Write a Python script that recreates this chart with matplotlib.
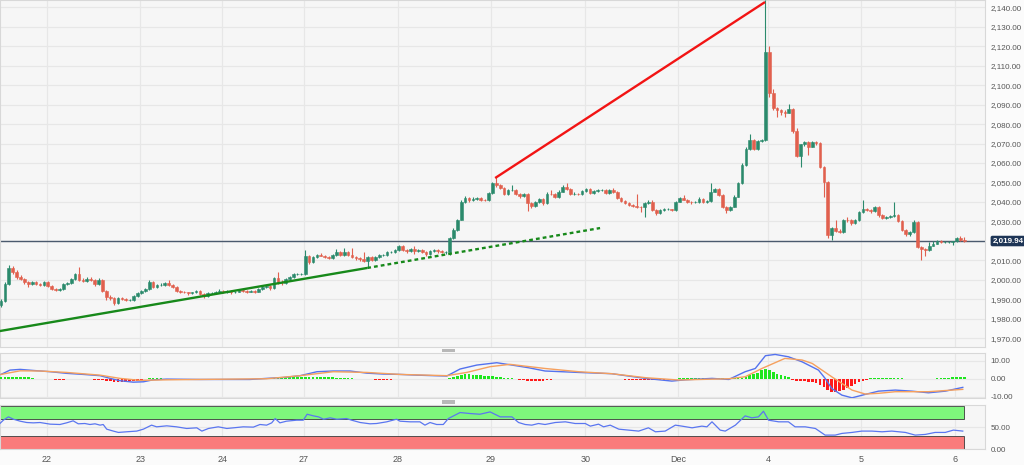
import numpy as np
import matplotlib.pyplot as plt
import matplotlib.patches as mpatches
from matplotlib.ticker import FuncFormatter

# hourly candles, x = candle index
first_open = 1987.0
closes = [
    1989.0, 1998.0, 2006.0, 2004.0, 2001.5, 2000.5, 1999.0, 1998.0, 1999.0, 1998.0,
    1997.5, 1999.0, 1997.0, 1995.5, 1995.0, 1995.5, 1998.0, 1998.5, 2000.5, 2003.0,
    2000.0, 1999.5, 2000.5, 2000.0, 1998.0, 2000.0, 1994.5, 1991.0, 1990.5, 1988.0,
    1990.5, 1990.0, 1989.5, 1989.5, 1991.5, 1993.0, 1994.5, 1995.5, 1999.0, 1996.5,
    1997.5, 1997.5, 1998.5, 1997.5, 1996.5, 1994.5, 1994.0, 1993.5, 1993.0, 1993.5,
    1994.5, 1992.8, 1991.5, 1993.0, 1993.3, 1994.0, 1994.5, 1993.8, 1994.2, 1993.8,
    1994.0, 1995.0, 1994.5, 1994.0, 1994.5, 1993.8, 1995.5, 1996.5, 1996.8, 1996.0,
    2001.0, 1998.5, 1998.2, 2000.5, 2001.5, 2002.8, 2002.8, 2003.0, 2012.0, 2009.0,
    2011.5, 2013.0, 2012.5, 2011.5, 2011.0, 2013.0, 2014.5, 2013.0, 2014.4, 2013.0,
    2011.5, 2011.0, 2010.5, 2009.5, 2011.5, 2010.0, 2011.5, 2012.8, 2013.0, 2014.4,
    2014.5, 2015.3, 2017.4, 2015.5, 2014.8, 2016.0, 2015.0, 2015.5, 2014.5, 2013.5,
    2015.0, 2015.5, 2014.8, 2014.5, 2014.5, 2021.3, 2025.6, 2030.8, 2040.2, 2041.9,
    2041.0, 2041.5, 2042.0, 2041.2, 2040.8, 2044.4, 2049.5, 2048.5, 2047.0, 2044.0,
    2046.0, 2046.2, 2044.0, 2043.0, 2044.0, 2039.5, 2038.0, 2040.0, 2041.5, 2039.3,
    2044.2, 2044.0, 2042.4, 2045.3, 2047.9, 2046.5, 2044.1, 2044.3, 2044.1, 2045.8,
    2046.5, 2044.8, 2045.8, 2046.2, 2046.2, 2044.4, 2046.2, 2045.0, 2042.0, 2040.5,
    2039.5, 2038.5, 2038.0, 2037.5, 2037.2, 2039.6, 2040.2, 2036.0, 2034.5, 2036.0,
    2036.2, 2036.2, 2035.9, 2040.2, 2041.9, 2041.2, 2040.2, 2039.8, 2040.0, 2041.4,
    2040.2, 2040.5, 2045.3, 2046.5, 2043.6, 2037.6, 2036.0, 2037.6, 2042.7, 2049.6,
    2059.0, 2067.1, 2071.9, 2067.0, 2071.5, 2071.8, 2117.2, 2095.8, 2088.1, 2087.0,
    2086.0, 2085.8, 2087.9, 2076.5, 2063.8, 2069.6, 2071.0, 2068.4, 2071.0, 2070.5,
    2058.2, 2050.5, 2023.1, 2026.5, 2025.1, 2024.8, 2030.8, 2030.5, 2029.0, 2030.5,
    2035.0, 2036.5, 2036.0, 2035.2, 2037.3, 2033.3, 2032.0, 2032.5, 2032.7, 2033.2,
    2030.0, 2025.6, 2023.4, 2024.8, 2029.9, 2017.0, 2015.8, 2015.4, 2017.6, 2018.6,
    2019.7, 2019.6, 2019.6, 2019.6, 2019.7, 2021.6, 2020.6, 2019.94]
highs = [
    1990.0, 1999.0, 2007.6, 2007.0, 2005.0, 2002.5, 2001.0, 1999.5, 1999.5, 1999.5,
    1998.5, 1999.5, 1999.5, 1997.5, 1996.0, 1996.0, 1998.5, 1999.0, 2001.0, 2003.5,
    2006.8, 2001.0, 2001.5, 2001.5, 2000.5, 2001.0, 2000.5, 1995.0, 1992.0, 1991.0,
    1991.0, 1991.0, 1990.5, 1990.0, 1992.0, 1993.5, 1995.0, 1996.0, 2000.0, 1999.5,
    1998.0, 1998.5, 1999.0, 2000.0, 1998.0, 1997.0, 1995.0, 1994.5, 1994.0, 1994.0,
    1995.0, 1995.0, 1993.2, 1993.5, 1994.0, 1994.5, 1995.5, 1995.0, 1995.0, 1994.8,
    1994.5, 1995.5, 1995.5, 1995.0, 1995.0, 1995.0, 1996.0, 1997.0, 1997.5, 1997.5,
    2001.5, 2004.0, 2000.0, 2001.0, 2002.0, 2003.3, 2003.5, 2003.5, 2015.3, 2013.0,
    2012.0, 2013.5, 2014.0, 2013.0, 2012.0, 2013.5, 2016.0, 2015.0, 2016.5, 2015.0,
    2016.5, 2012.0, 2011.5, 2014.5, 2012.0, 2012.0, 2012.0, 2013.3, 2013.5, 2015.0,
    2015.0, 2016.0, 2018.0, 2018.0, 2016.0, 2016.5, 2017.5, 2016.0, 2016.0, 2015.0,
    2015.5, 2016.0, 2016.0, 2015.5, 2015.0, 2022.0, 2026.5, 2031.5, 2041.0, 2043.0,
    2042.5, 2042.5, 2042.5, 2042.5, 2041.5, 2045.0, 2050.5, 2053.0, 2049.0, 2047.5,
    2046.5, 2048.5, 2046.5, 2044.5, 2044.5, 2044.5, 2040.0, 2040.5, 2042.0, 2042.0,
    2045.0, 2046.0, 2044.5, 2046.0, 2048.5, 2049.6, 2047.0, 2045.0, 2044.8, 2046.3,
    2047.0, 2047.0, 2046.3, 2046.8, 2046.8, 2046.8, 2046.8, 2047.0, 2045.5, 2042.5,
    2041.0, 2040.0, 2039.0, 2044.0, 2038.0, 2040.0, 2041.0, 2041.0, 2036.5, 2036.5,
    2036.7, 2036.7, 2036.5, 2040.7, 2042.5, 2043.5, 2041.7, 2040.7, 2040.5, 2042.5,
    2042.0, 2041.0, 2050.0, 2047.0, 2047.0, 2044.0, 2038.0, 2038.0, 2043.5, 2050.5,
    2060.0, 2068.0, 2075.0, 2072.5, 2072.0, 2072.5, 2143.5, 2120.0, 2098.0, 2089.0,
    2088.0, 2087.0, 2090.3, 2088.5, 2078.0, 2070.0, 2071.5, 2071.5, 2071.5, 2071.5,
    2071.0, 2058.7, 2051.0, 2027.0, 2030.5, 2026.0, 2031.3, 2032.5, 2031.0, 2031.0,
    2035.5, 2041.0, 2037.0, 2036.5, 2037.8, 2038.0, 2033.8, 2033.0, 2033.3, 2040.2,
    2033.7, 2030.5, 2026.0, 2025.3, 2030.5, 2030.3, 2017.5, 2016.3, 2019.5, 2020.0,
    2020.5, 2020.3, 2020.2, 2020.2, 2020.2, 2022.0, 2022.5, 2021.8]
lows = [
    1986.0, 1988.5, 1997.5, 2003.0, 2000.5, 2000.0, 1998.0, 1996.5, 1997.5, 1997.5,
    1997.0, 1997.0, 1996.5, 1995.0, 1994.5, 1994.5, 1995.0, 1997.5, 1998.0, 2000.0,
    1999.5, 1999.0, 1999.0, 1999.5, 1997.0, 1997.5, 1994.0, 1989.5, 1989.5, 1987.0,
    1987.5, 1989.5, 1989.0, 1989.0, 1989.0, 1991.0, 1992.5, 1994.0, 1995.0, 1996.0,
    1996.0, 1997.0, 1997.0, 1997.0, 1996.0, 1993.5, 1993.0, 1993.0, 1992.0, 1992.5,
    1993.0, 1992.0, 1990.5, 1991.0, 1992.5, 1993.0, 1993.5, 1993.0, 1993.0, 1992.8,
    1993.2, 1993.5, 1994.0, 1993.0, 1993.5, 1993.0, 1993.5, 1995.0, 1996.0, 1995.0,
    1995.5, 1998.0, 1997.5, 1998.0, 2000.0, 2001.0, 2002.3, 2002.3, 2002.5, 2008.0,
    2008.5, 2011.0, 2012.0, 2011.0, 2010.5, 2010.5, 2012.5, 2012.5, 2012.5, 2012.5,
    2011.0, 2010.0, 2009.5, 2009.0, 2006.0, 2009.5, 2009.5, 2011.0, 2012.3, 2012.5,
    2014.0, 2014.0, 2015.0, 2015.0, 2014.0, 2014.5, 2013.5, 2014.5, 2014.0, 2012.5,
    2013.0, 2014.5, 2014.0, 2014.0, 2013.5, 2013.0, 2021.0, 2025.0, 2030.5, 2039.5,
    2040.0, 2040.5, 2041.0, 2040.5, 2040.3, 2040.3, 2044.0, 2047.5, 2046.5, 2043.5,
    2043.5, 2045.5, 2043.5, 2042.0, 2042.5, 2035.5, 2037.0, 2037.5, 2039.5, 2038.5,
    2039.0, 2043.5, 2042.0, 2042.0, 2045.0, 2046.0, 2043.5, 2043.5, 2043.8, 2043.8,
    2045.3, 2044.3, 2044.3, 2045.3, 2045.6, 2044.0, 2044.0, 2044.5, 2041.5, 2040.0,
    2039.0, 2038.0, 2037.5, 2037.0, 2035.0, 2032.5, 2039.0, 2035.5, 2033.5, 2034.0,
    2035.5, 2035.7, 2035.4, 2035.5, 2039.8, 2040.8, 2039.7, 2039.2, 2039.3, 2039.5,
    2039.7, 2039.7, 2040.0, 2045.0, 2043.0, 2037.0, 2034.2, 2035.5, 2037.3, 2042.5,
    2049.0, 2058.5, 2066.8, 2066.5, 2066.5, 2071.0, 2071.5, 2094.0, 2087.5, 2083.5,
    2084.5, 2083.5, 2085.5, 2075.5, 2063.0, 2058.2, 2069.0, 2064.0, 2068.0, 2069.5,
    2057.5, 2042.8, 2021.5, 2020.5, 2024.5, 2024.0, 2024.3, 2029.5, 2028.0, 2028.5,
    2030.0, 2034.5, 2035.5, 2034.5, 2034.8, 2032.5, 2031.5, 2031.5, 2032.0, 2032.2,
    2029.5, 2025.0, 2022.5, 2022.5, 2024.3, 2016.5, 2010.2, 2012.5, 2015.0, 2017.2,
    2018.2, 2019.1, 2019.1, 2019.1, 2018.0, 2019.3, 2020.0, 2019.5]

day_labels = ['22', '23', '24', '27', '28', '29', '30', 'Dec', '4', '5', '6']
day_pos = [11.8, 35.7, 56.7, 77.7, 101.7, 125.6, 149.8, 173.6, 196.7, 220.6, 244.6]
last_price = 2019.94

# drawn trend lines (candle index, price)
support_x = [-0.3, 93.9]
support_y = [1973.7, 2006.1]
support_ext_x = [93.9, 153.6]
support_ext_y = [2006.1, 2026.6]
resist_x = [126.7, 195.9]
resist_y = [2052.3, 2142.7]

# MACD
macd_x = [0, 2.3, 4.9, 8.3, 12.6, 16.8, 21.1, 25.4, 28, 30.5, 33.9, 36.5, 39, 42.5,
          51, 63.8, 68.1, 72.4, 76.7, 81, 85.2, 89.5, 93.8, 98, 102.3, 106.6, 110.9,
          114.3, 117.7, 122, 127.1, 131, 135.3, 139.5, 148.1, 156.6, 165.2, 172,
          175.4, 182.3, 186.6, 190.8, 193.4, 196, 198.5, 201.9, 205.4, 209.6, 211.3,
          213, 215.6, 218.2, 221.6, 225, 229.3, 233.6, 237.8, 242.1, 246.6]
macd_v = [2.4, 4.8, 5.2, 4.6, 3.9, 3.0, 2.4, 1.7, 0.2, -1.1, -1.9, -1.7, -0.6, -0.2,
          -0.4, -0.4, 0.2, 0.7, 1.7, 3.9, 4.3, 4.3, 3.1, 2.6, 2.4, 2.0, 1.7,
          1.5, 5.4, 7.6, 8.9, 7.6, 6.1, 4.3, 3.5, 2.8, 0.2, -1.3,
          -0.6, 0.2, -0.4, 3.9, 5.7, 12.8, 13.5, 12.2, 9.4, 4.8, 0.2,
          -5.4, -9.1, -10.6, -8.7, -6.9, -6.3, -6.9, -7.8, -6.9, -4.8]
sig_x = [0, 4.9, 10, 16.8, 25.4, 30.5, 35.6, 42.5, 51, 68.1, 76.7, 85.2, 93.8, 102.3,
         114.3, 119.4, 125.4, 130.5, 139.5, 148.1, 156.6, 165.2, 173.7, 186.6, 190.8,
         195.1, 201, 205.4, 208, 210.5, 213, 215.6, 218.2, 221.6, 225, 229.3, 237.8, 246.6]
sig_v = [2.4, 4.4, 4.3, 3.5, 2.0, 0.2, -0.9, -0.6, -0.4, 0.0, 1.7, 3.9, 3.5, 2.4,
         1.7, 3.5, 6.7, 8.0, 5.7, 3.9, 2.8, 0.6, -0.7, 0.0, 1.1,
         5.7, 11.3, 10.4, 8.5, 4.8, 1.1, -2.6, -6.3, -8.5, -8.1, -7.2, -7.2, -5.9]
hist = [
    0.8, 1.0, 1.2, 1.2, 1.1, 1.0, 0.9, 0.8, 0.6,
    -0.2, -0.3, -0.3, -0.4, -0.4, -0.5, -0.5, -0.5, -0.4, -0.4,
    -0.3, -0.3, -0.3, -0.4, -0.4, -0.5, -0.5,
    -0.6, -1.0, -1.4, -1.6, -1.7, -1.7, -1.6, -1.5, -1.3, -1.0, -0.7, -0.4,
    0.2, 0.2, 0.2, 0.2, 0.1, 0.1,
    -0.1, -0.1, -0.1, -0.1, -0.1, -0.1, -0.1, -0.1, -0.1, -0.1, -0.1, -0.1,
    0.1, 0.1, 0.1, 0.1, 0.1, 0.1, 0.1, 0.1, 0.1, 0.1, 0.1, 0.1,
    0.3, 0.4, 0.5, 0.6, 0.6, 0.7, 0.7, 0.8, 0.8, 0.9, 0.9, 1.0, 1.0, 1.0,
    0.9, 0.9, 0.8, 0.7, 0.6, 0.5, 0.4, 0.3, 0.2,
    -0.2, -0.3, -0.3, -0.4, -0.4, -0.5, -0.5, -0.5, -0.5, -0.5, -0.4, -0.4,
    -0.4, -0.4, -0.4, -0.3, -0.3, -0.3, -0.3, -0.3, -0.3, -0.2, -0.2, -0.1,
    0.6, 1.2, 1.8, 2.3, 2.4, 2.4, 2.3, 2.1, 1.9, 1.7, 1.5, 1.3, 1.1, 0.8, 0.5, 0.3,
    0.2, 0.1,
    -0.5, -0.9, -1.2, -1.3, -1.3, -1.2, -1.0, -0.8, -0.6,
    -0.3, -0.3, -0.4, -0.4, -0.4, -0.3, -0.3, -0.3, -0.3, -0.3, -0.2, -0.2,
    -0.3, -0.3, -0.3, -0.3, -0.4, -0.4,
    -0.5, -0.6, -0.7, -0.7, -0.8, -0.8, -0.8, -0.7, -0.7, -0.6, -0.5, -0.4, -0.3,
    0.1, 0.2, 0.2, 0.3, 0.3, 0.3, 0.3, 0.4, 0.5, 0.5, 0.4, 0.3, 0.2, 0.1, 0.1, 0.2, 0.3,
    0.4, 1.2, 2.0, 2.6, 3.3, 4.6, 5.6, 5.0, 3.8, 2.6, 1.9, 1.3, 0.9,
    -0.9, -1.0, -1.3, -1.5, -1.7, -1.9, -2.3, -3.2, -4.6, -6.2, -7.6, -7.3, -6.8,
    -6.0, -5.0, -4.0, -3.0, -2.0, -1.1, -0.5,
    0.3, 0.4, 0.5, 0.5, 0.5, 0.4, 0.4, 0.3, 0.2, 0.1,
    -0.2, -0.3, -0.3, -0.3, -0.3, -0.2, -0.1,
    0.3, 0.4, 0.5, 0.6, 0.7, 0.7, 0.7, 0.7]

# RSI
rsi_x = [-0.3, 0.6, 1.9, 3.2, 4.9, 6.6, 8.3, 10.0, 12.6, 15.1,
         16.8, 18.5, 19.8, 21.5, 22.8, 24.1, 25.4, 26.2, 27.1, 28.8,
         30.1, 32.2, 34.8, 36.5, 38.6, 39.9, 42.5, 45.0, 47.6, 50.2,
         51.5, 53.2, 55.7, 57.9, 59.6, 62.1, 64.7, 66.4, 68.1, 69.4,
         70.3, 71.5, 73.2, 75.8, 77.5, 78.5, 80.1, 81.4, 82.7, 84.4,
         86.1, 88.6, 89.9, 92.1, 94.6, 96.3, 98.9, 101.4, 102.3, 104.9,
         107.4, 108.7, 110.0, 111.7, 113.4, 114.7, 117.7, 120.3, 122.8, 125.4,
         128.0, 131.0, 132.7, 134.4, 136.1, 137.8, 139.5, 142.1, 144.7, 147.2,
         149.8, 151.1, 153.2, 154.5, 156.2, 158.4, 160.9, 163.5, 166.0, 167.8,
         170.3, 172.9, 174.6, 177.2, 179.7, 181.0, 182.3, 184.4, 185.7, 188.3,
         190.8, 192.5, 194.2, 195.5, 196.8, 199.4, 201.9, 203.6, 206.2, 208.8,
         211.3, 213.9, 215.6, 218.2, 220.7, 223.3, 225.9, 228.4, 231.9, 234.4,
         237.0, 239.5, 242.1, 244.2, 246.6]
rsi_v = [59.0, 66.8, 74.5, 69.0, 64.5, 61.4, 60.6, 61.4, 57.6, 56.8,
         60.6, 65.3, 58.4, 59.1, 56.8, 58.4, 55.3, 56.8, 46.0, 41.5,
         38.4, 39.9, 41.5, 46.0, 55.3, 51.4, 53.7, 51.4, 47.6, 49.1,
         41.5, 47.6, 51.4, 47.6, 49.1, 51.4, 50.7, 56.8, 55.3, 60.6,
         70.6, 60.6, 64.5, 66.8, 66.8, 80.6, 76.8, 74.5, 69.0, 72.2,
         69.0, 70.6, 66.8, 61.4, 58.4, 59.1, 63.0, 69.0, 64.5, 63.0,
         63.0, 55.3, 61.4, 56.8, 56.8, 70.6, 84.5, 82.2, 80.6, 86.0,
         74.5, 74.5, 61.4, 56.8, 55.3, 59.1, 56.8, 61.4, 63.0, 59.1,
         59.1, 53.0, 57.6, 51.4, 55.3, 46.0, 43.8, 41.5, 49.1, 39.9,
         41.5, 55.3, 53.0, 49.1, 53.0, 51.4, 63.0, 43.8, 41.5, 55.3,
         76.8, 72.2, 74.5, 87.5, 66.8, 63.0, 63.0, 51.4, 51.4, 47.6,
         32.2, 32.2, 36.1, 38.4, 41.5, 41.5, 39.9, 41.5, 38.4, 32.2,
         33.8, 38.4, 38.4, 43.8, 41.5]

plt.rcParams['font.family'] = ['Liberation Sans', 'DejaVu Sans']

W, H = 1024, 465
fig = plt.figure(figsize=(W / 100, H / 100), dpi=100, facecolor='#fbfbfb')


def panel(top, bottom, sharex=None):
    a = fig.add_axes([0, (H - bottom) / H, 985 / W, (bottom - top) / H], sharex=sharex)
    a.set_facecolor('#f6f6f6')
    for s in a.spines.values():
        s.set_color('#d8d8d8')
        s.set_linewidth(0.8)
    a.yaxis.tick_right()
    a.tick_params(axis='y', length=0, labelsize=5.8, colors='#555555', pad=4)
    a.tick_params(axis='x', length=0, labelsize=6.5, colors='#555555', pad=4)
    a.grid(True, color='#e7e7e7', lw=0.9)
    a.set_axisbelow(True)
    return a


ax = panel(0, 347)
ax_m = panel(353, 398, sharex=ax)
ax_r = panel(405, 449, sharex=ax)

# candles
x = np.arange(len(closes))
c = np.array(closes)
o = np.concatenate([[first_open], c[:-1]])
col = np.where(c >= o, '#2b8a6c', '#e1604e')
ax.vlines(x, lows, highs, colors=col, lw=0.8, zorder=3)
ax.bar(x, c - o, bottom=o, width=0.7, color=col, edgecolor=col, linewidth=0.4, zorder=4)

ax.axhline(last_price, color='#4b5a6e', lw=1.0, zorder=2)

ax.plot(support_x, support_y, color='#17891a', lw=1.7, solid_capstyle='butt', zorder=5)
ax.plot(support_ext_x, support_ext_y, color='#17891a', lw=1.7,
        linestyle=(0, (1.6, 1.3)), zorder=5)
ax.plot(resist_x, resist_y, color='#f21414', lw=1.7, solid_capstyle='butt', zorder=5)

ax.set_ylim(1965.5, 2143.75)
ax.set_yticks(np.arange(1970, 2141, 10))
ax.yaxis.set_major_formatter(FuncFormatter(
    lambda v, p: '' if abs(v - 2020) < 1e-6 else f'{v:,.2f}'))
ax.text(1.0075, last_price, f'{last_price:,.2f}', transform=ax.get_yaxis_transform(),
        ha='left', va='center', fontsize=5.8, color='white', fontweight='bold',
        bbox=dict(boxstyle='round,pad=0.22', fc='#1e3556', ec='none'),
        clip_on=False, zorder=10)

# MACD panel
hcol = ['#1ee61e' if h >= 0 else '#ff1a1a' for h in hist]
ax_m.bar(x, hist, width=0.7, color=hcol, zorder=3)
ax_m.plot(macd_x, macd_v, color='#5472ee', lw=1.0, zorder=4)
ax_m.plot(sig_x, sig_v, color='#f5a05e', lw=1.0, zorder=4)
ax_m.set_ylim(-10.7, 14.3)
ax_m.set_yticks([-10, 0, 10])
ax_m.yaxis.set_major_formatter(FuncFormatter(lambda v, p: f'{v:.2f}'))

# RSI panel
ax_r.add_patch(mpatches.Rectangle((x[0] - 0.6, 70), x[-1] - x[0] + 0.6, 30,
                                  fc='#7ef77c', ec='#3a3a3a', lw=0.6, zorder=2))
ax_r.add_patch(mpatches.Rectangle((x[0] - 0.6, 0), x[-1] - x[0] + 0.6, 30,
                                  fc='#fa7b7b', ec='#3a3a3a', lw=0.6, zorder=2))
ax_r.plot(rsi_x, rsi_v, color='#5a76f0', lw=0.9, zorder=4)
ax_r.set_ylim(0, 102)
ax_r.set_yticks([0, 50])
ax_r.yaxis.set_major_formatter(FuncFormatter(lambda v, p: f'{v:.2f}'))

ax_r.set_xticks(day_pos)
ax_r.set_xticklabels(day_labels)
ax.tick_params(labelbottom=False)
ax_m.tick_params(labelbottom=False)
ax.set_xlim(-0.26, 252.3)

# panel resize handles
for ytop in (349, 400.3):
    fig.add_artist(mpatches.Rectangle((441.7 / W, (H - ytop - 3.3) / H), 13.3 / W, 3.3 / H,
                                      transform=fig.transFigure, fc='#b8b8b8', ec='none'))

fig.savefig('out.png', dpi=100, facecolor=fig.get_facecolor())
